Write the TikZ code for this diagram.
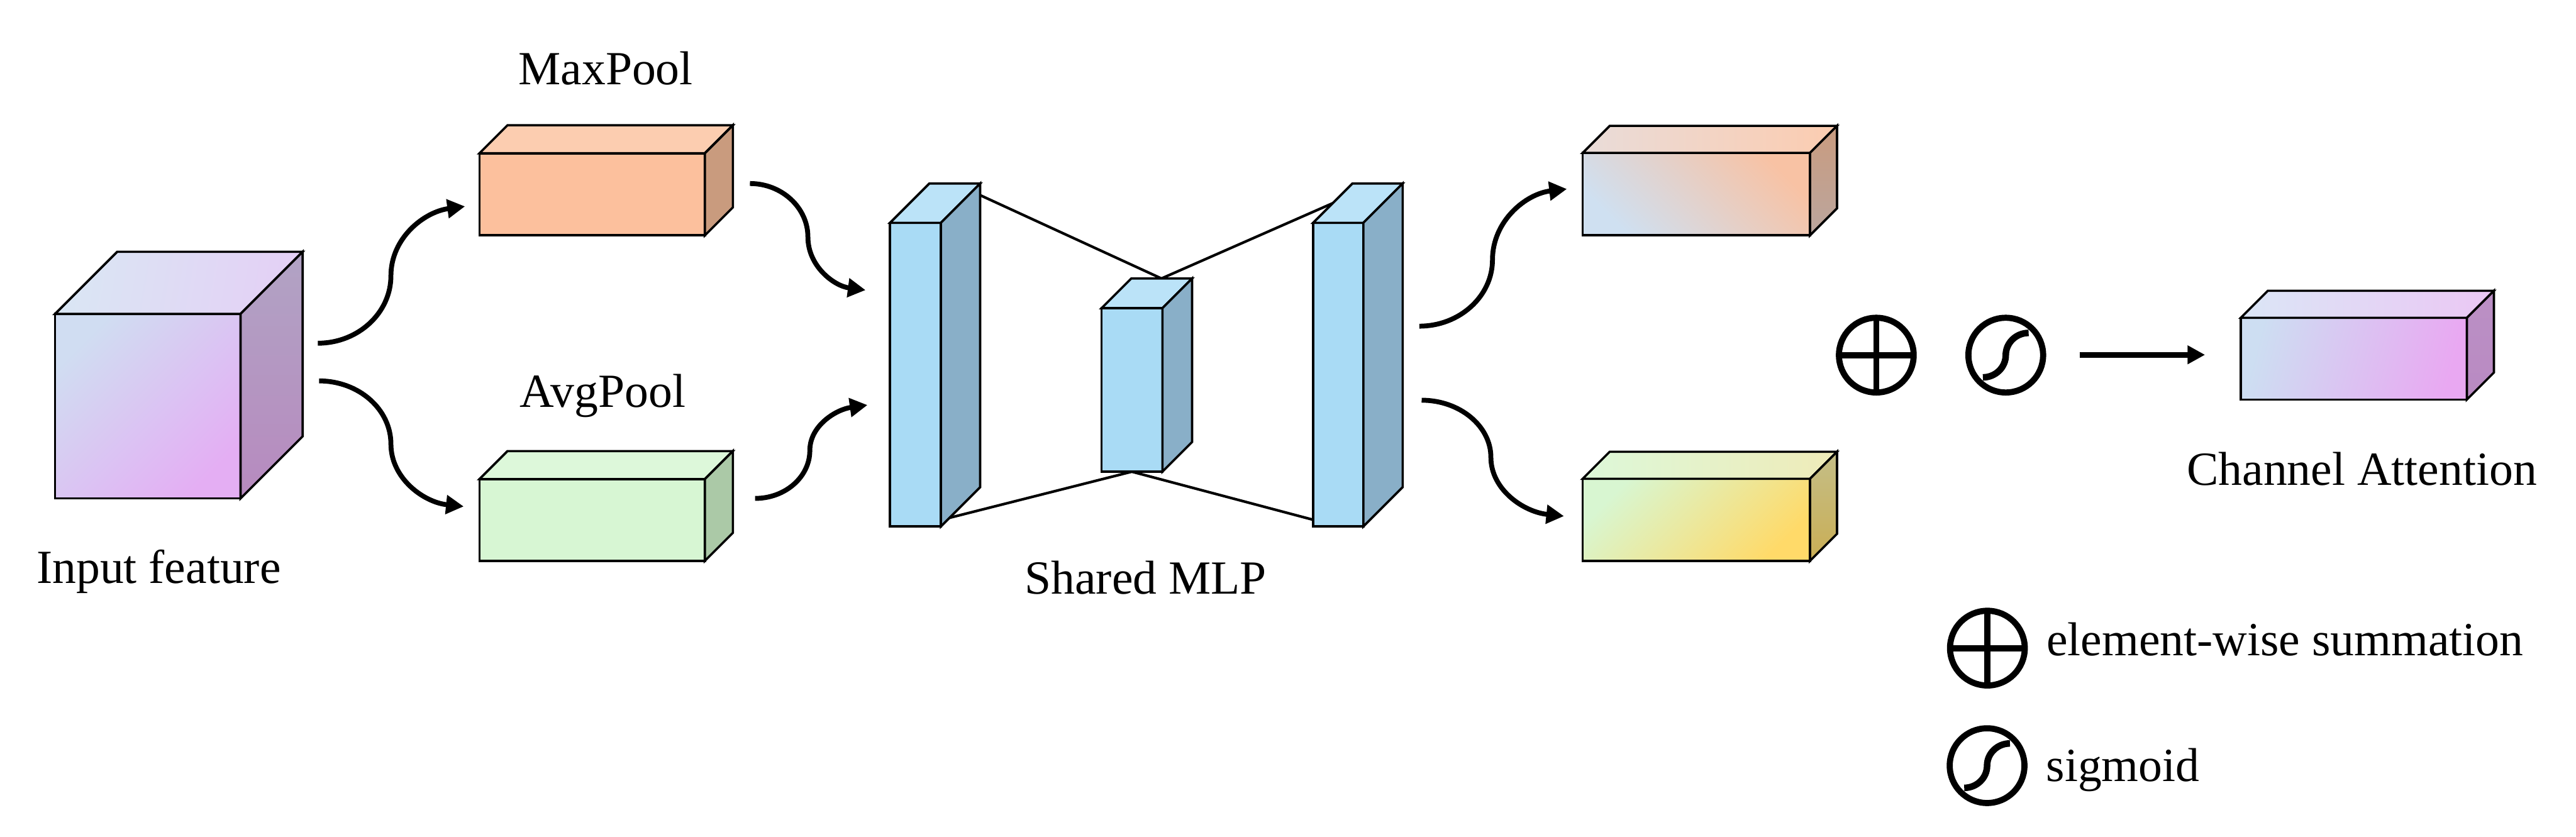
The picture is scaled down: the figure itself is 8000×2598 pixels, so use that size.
\documentclass[tikz,border=0pt]{standalone}
\usepackage{fontspec}
\setmainfont{Liberation Serif}
\usetikzlibrary{arrows.meta}
% colours
\definecolor{inFa}{HTML}{D0DDF2}\definecolor{inFb}{HTML}{E4AEF3}
\definecolor{inTa}{HTML}{DAE6F4}\definecolor{inTb}{HTML}{E4D0F5}
\definecolor{inSa}{HTML}{B1A3C4}\definecolor{inSb}{HTML}{B78ABF}
\definecolor{mxF}{HTML}{FCC09D}\definecolor{mxT}{HTML}{FCCDB0}\definecolor{mxS}{HTML}{C99B7E}
\definecolor{avF}{HTML}{D7F6D3}\definecolor{avT}{HTML}{DDF8DA}\definecolor{avS}{HTML}{ABC9A7}
\definecolor{mlF}{HTML}{A9DBF5}\definecolor{mlT}{HTML}{BBE3F8}\definecolor{mlS}{HTML}{89AFC8}
\definecolor{uoFa}{HTML}{CFE0F1}\definecolor{uoFb}{HTML}{F8C2A4}
\definecolor{uoTa}{HTML}{E9DCD9}\definecolor{uoTb}{HTML}{FCCCB0}
\definecolor{uoSa}{HTML}{C99B7F}\definecolor{uoSb}{HTML}{BBA69E}
\definecolor{loFa}{HTML}{D8F6D1}\definecolor{loFb}{HTML}{FFDA69}
\definecolor{loTa}{HTML}{DDF8D9}\definecolor{loTb}{HTML}{EFEBB8}
\definecolor{loSa}{HTML}{C4BE87}\definecolor{loSb}{HTML}{CAAE55}
\definecolor{caFa}{HTML}{CDDEF2}\definecolor{caFb}{HTML}{E9A8F2}
\definecolor{caTa}{HTML}{DBE6F6}\definecolor{caTb}{HTML}{EBC7F4}
\definecolor{caSa}{HTML}{BB90C5}\definecolor{caSb}{HTML}{B98AC2}
% cuboid: front top-left (#1,#2), front bottom-right (#3,#4), depth #5, face styles #6 #7 #8
\newcommand{\mycuboid}[8]{%
  \path[boxline,#6] (#1,#2) rectangle (#3,#4);
  \path[boxline,#7] (#1,#2) -- (#1+#5,#2-#5) -- (#3+#5,#2-#5) -- (#3,#2) -- cycle;
  \path[boxline,#8] (#3,#2) -- (#3+#5,#2-#5) -- (#3+#5,#4-#5) -- (#3,#4) -- cycle;
}
\begin{document}
\begin{tikzpicture}[x=0.01cm,y=-0.01cm,
  boxline/.style={draw=black,line width=2pt},
  lbl/.style={inner sep=0pt,font=\fontsize{42}{50}\selectfont},
  flow/.style={line width=4.3pt,-{Triangle[length=15.6pt,width=16.2pt]}},
  mlpline/.style={line width=2.3pt},
  symb/.style={circle,draw,line width=5.4pt,minimum size=66pt,inner sep=0pt,outer sep=0pt},
  symbline/.style={line width=5.4pt},
  sigline/.style={line width=5.8pt}]
\useasboundingbox (0,0) rectangle (8000,2598);
\fill[white] (0,0) rectangle (8000,2598);

% ---------- MLP connecting lines (behind bars)
\coordinate (mlT1) at (2965,570);
\coordinate (mlT2) at (3607,865);
\coordinate (mlT3) at (4278,570);
\coordinate (mlB1) at (2843,1635);
\coordinate (mlB2) at (3515,1465);
\coordinate (mlB3) at (4156,1635);
\draw[mlpline] (mlT1) -- (mlT2) -- (mlT3);
\draw[mlpline] (mlB1) -- (mlB2) -- (mlB3);

% ---------- cuboids
% input feature
\mycuboid{171}{975}{747}{1548}{193}
  {left color=inFa,right color=inFb,shading angle=45}
  {left color=inTa,right color=inTb,shading angle=80}
  {top color=inSa,bottom color=inSb}
% MaxPool / AvgPool
\mycuboid{1489}{476}{2189}{731}{87}{fill=mxF}{fill=mxT}{fill=mxS}
\mycuboid{1489}{1488}{2189}{1742}{87}{fill=avF}{fill=avT}{fill=avS}
% shared MLP bars
\mycuboid{2764}{692}{2922}{1635}{122}{fill=mlF}{fill=mlT}{fill=mlS}
\mycuboid{3421}{957}{3610}{1465}{92}{fill=mlF}{fill=mlT}{fill=mlS}
\mycuboid{4078}{692}{4234}{1635}{122}{fill=mlF}{fill=mlT}{fill=mlS}
% outputs
\mycuboid{4915}{475}{5621}{731}{84}
  {left color=uoFa,right color=uoFb,shading angle=135}
  {left color=uoTa,right color=uoTb,shading angle=90}
  {top color=uoSa,bottom color=uoSb}
\mycuboid{4915}{1487}{5621}{1742}{84}
  {left color=loFa,right color=loFb,shading angle=45}
  {left color=loTa,right color=loTb,shading angle=90}
  {top color=loSa,bottom color=loSb}
% channel attention
\mycuboid{6959}{987}{7661}{1241}{84}
  {left color=caFa,right color=caFb,shading angle=75}
  {left color=caTa,right color=caTb,shading angle=90}
  {top color=caSa,bottom color=caSb}

% ---------- labels
\node[lbl,anchor=base] (tmax) at (1881,262) {MaxPool};
\node[lbl,anchor=base] (tavg) at (1872,1265) {AvgPool};
\node[lbl,anchor=base] (tin) at (493,1811) {Input feature};
\node[lbl,anchor=base] (tmlp) at (3558,1844) {Shared MLP};
\node[lbl,anchor=base] (tca) at (7335,1507) {Channel Attention};
\node[lbl,anchor=base west] (tsum) at (6355,2037) {element-wise summation};
\node[lbl,anchor=base west] (tsig) at (6354,2427) {sigmoid};

% ---------- curved arrows
\coordinate (a1s) at (987,1066);  \coordinate (a1m) at (1214,857);  \coordinate (a1e) at (1444,641);
\coordinate (a2s) at (991,1183);  \coordinate (a2m) at (1214,1379); \coordinate (a2e) at (1440,1573);
\coordinate (a3s) at (2329,570);  \coordinate (a3m) at (2509,736);  \coordinate (a3e) at (2688,901);
\coordinate (a4s) at (2345,1548); \coordinate (a4m) at (2515,1399); \coordinate (a4e) at (2694,1258);
\coordinate (a5s) at (4408,1013); \coordinate (a5m) at (4635,807);  \coordinate (a5e) at (4866,587);
\coordinate (a6s) at (4415,1243); \coordinate (a6m) at (4630,1420); \coordinate (a6e) at (4857,1603);
\draw[flow] (a1s) .. controls (1112,1066) and (1214,972) .. (a1m)
                  .. controls (1214,738) and (1318,658) .. (a1e);
\draw[flow] (a2s) .. controls (1114,1183) and (1214,1271) .. (a2m)
                  .. controls (1214,1486) and (1316,1560) .. (a2e);
\draw[flow] (a3s) .. controls (2428,570) and (2509,645) .. (a3m)
                  .. controls (2509,827) and (2590,888) .. (a3e);
\draw[flow] (a4s) .. controls (2439,1548) and (2515,1481) .. (a4m)
                  .. controls (2515,1322) and (2596,1272) .. (a4e);
\draw[flow] (a5s) .. controls (4533,1013) and (4635,920) .. (a5m)
                  .. controls (4635,686) and (4739,602) .. (a5e);
\draw[flow] (a6s) .. controls (4533,1243) and (4630,1323) .. (a6m)
                  .. controls (4630,1521) and (4732,1590) .. (a6e);

% ---------- operators
\node[symb] (plus) at (5827,1103) {};
\draw[symbline] (plus.north) -- (plus.south);
\draw[symbline] (plus.west) -- (plus.east);
\node[symb] (sig) at (6229,1103) {};
\begin{scope}[shift={(sig.center)}]
  \draw[sigline] (-71,69) .. controls (-32,69) and (0,38) .. (0,0)
                 .. controls (0,-38) and (32,-69) .. (71,-69);
\end{scope}
\coordinate (oarrs) at (6458,1102);
\coordinate (oarre) at (6848,1102);
\draw[line width=5.1pt,-{Triangle[length=15.4pt,width=15.6pt]}] (oarrs) -- (oarre);

% ---------- legend
\node[symb] (lplus) at (6172,2013) {};
\draw[symbline] (lplus.north) -- (lplus.south);
\draw[symbline] (lplus.west) -- (lplus.east);
\node[symb] (lsig) at (6171,2378) {};
\begin{scope}[shift={(lsig.center)}]
  \draw[sigline] (-71,69) .. controls (-32,69) and (0,38) .. (0,0)
                 .. controls (0,-38) and (32,-69) .. (71,-69);
\end{scope}
\end{tikzpicture}
\end{document}
